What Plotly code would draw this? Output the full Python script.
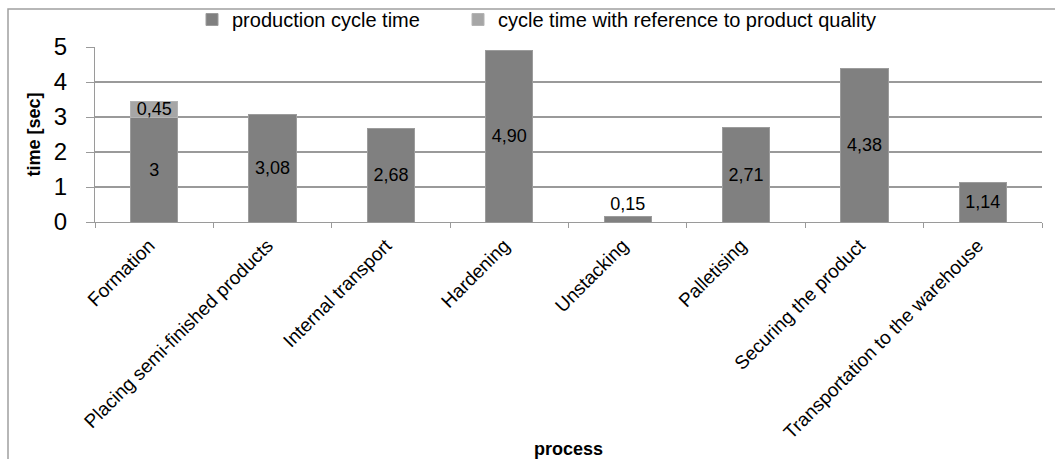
import plotly.graph_objects as go

processes = [
    "Formation",
    "Placing semi-finished products",
    "Internal transport",
    "Hardening",
    "Unstacking",
    "Palletising",
    "Securing the product",
    "Transportation to the warehouse",
]
production_cycle = [3, 3.08, 2.68, 4.90, 0.15, 2.71, 4.38, 1.14]
quality_cycle = [0.45, None, None, None, None, None, None, None]

y_ticks = [0, 1, 2, 3, 4, 5]

DARK = "#808080"
LIGHT = "#a6a6a6"
GRID = "#9a9a9a"
FONT = "Liberation Sans, Arial, sans-serif"

# plot area in pixels
L, R, T, B = 95, 13, 47, 237
W, H = 1055, 459
PW, PH = W - L - R, H - T - B


def fmt(v):
    if v is None:
        return ""
    if float(v).is_integer():
        return str(int(v))
    return f"{v:.2f}".replace(".", ",")


prod_pos = ["outside" if v < 0.5 else "inside" for v in production_cycle]

fig = go.Figure()
fig.add_trace(go.Bar(
    x=processes, y=production_cycle, name="production cycle time",
    marker=dict(color=DARK, line=dict(color="#9c9c9c", width=1)),
    text=[fmt(v) for v in production_cycle], textposition=prod_pos,
    insidetextanchor="middle", cliponaxis=False,
    textfont=dict(family=FONT, size=18, color="#000000"),
    legend="legend",
))
fig.add_trace(go.Bar(
    x=processes, y=quality_cycle, name="cycle time with reference to product quality",
    marker=dict(color=LIGHT, line=dict(color="#b4b4b4", width=1)),
    text=[fmt(v) for v in quality_cycle], textposition="inside",
    insidetextanchor="middle",
    textfont=dict(family=FONT, size=18, color="#000000"),
    legend="legend2",
))

legend_style = dict(
    orientation="h", xanchor="left", yanchor="top",
    xref="container", yref="container",
    y=1.0, font=dict(family=FONT, size=20),
    bgcolor="rgba(0,0,0,0)", itemwidth=30,
)

fig.update_layout(
    width=W, height=H,
    barmode="stack", bargap=0.6,
    plot_bgcolor="white", paper_bgcolor="white",
    margin=dict(l=L, r=R, t=T, b=B, autoexpand=False),
    font=dict(family=FONT, color="#000000"),
    uniformtext=dict(minsize=18, mode="show"),
    showlegend=True,
    legend=dict(x=192 / W, **legend_style),
    legend2=dict(x=458 / W, **legend_style),
    xaxis=dict(
        tickangle=-45, tickfont=dict(family=FONT, size=19),
        showline=True, linecolor=GRID, linewidth=1,
        ticks="outside", tickson="boundaries", ticklen=5, tickcolor=GRID,
        ticklabelshift=-5, ticklabelstandoff=4,
        showgrid=False, automargin=False,
        title=dict(text="<b>process</b>", font=dict(family=FONT, size=18), standoff=7),
    ),
    yaxis=dict(
        range=[0, 5], tickvals=y_ticks, ticktext=[str(t) for t in y_ticks],
        tickfont=dict(family=FONT, size=24),
        showgrid=True, gridcolor=GRID, gridwidth=1.5,
        showline=True, linecolor=GRID, linewidth=1,
        ticks="outside", ticklen=8, tickcolor=GRID,
        ticklabelstandoff=14, automargin=False,
        zeroline=False,
        title=dict(text="<b>time [sec]</b>", font=dict(family=FONT, size=18), standoff=8),
    ),
    shapes=[dict(
        type="rect", xref="paper", yref="paper",
        x0=(8 - L) / PW, x1=(1070 - L) / PW,
        y0=(222 - 480) / PH, y1=(222 - 9) / PH,
        line=dict(color="#a0a0a0", width=1.5), fillcolor="rgba(0,0,0,0)", layer="below",
    )],
)

fig.write_html("out.html")
